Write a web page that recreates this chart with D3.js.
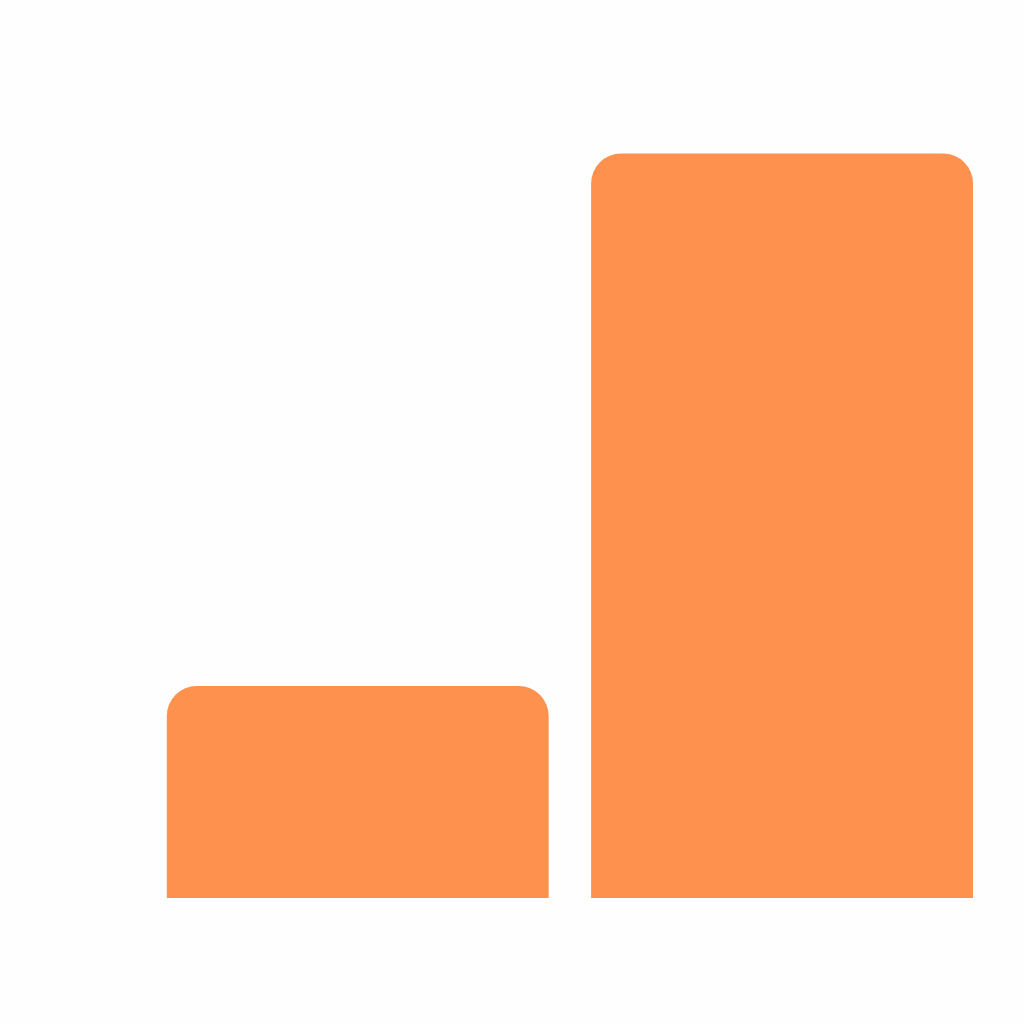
<!DOCTYPE html>
<html>
<head>
<meta charset="utf-8">
<script src="https://cdn.jsdelivr.net/npm/d3@7"></script>
<style>
  html, body { margin: 0; padding: 0; background: #fefefe; }
</style>
</head>
<body>
<script>
const categories = ["A", "B"]
const values = [29.9, 105]

const margin = ({top: 153.5, right: 51, bottom: 126, left: 166.8})
const width = 1024
const height = 1024
const radius = 30

const svg = d3.select("body").append("svg")
  .attr("width", width)
  .attr("height", height)
  .style("display", "block")

const x = d3.scaleBand()
  .domain(categories)
  .range([margin.left, width - margin.right])
  .paddingInner(0.1)

const y = d3.scaleLinear()
  .domain([0, 105])
  .range([height - margin.bottom, margin.top])

// bars with the top corners rounded only
const barPath = (d, i) => {
  const x0 = x(categories[i])
  const x1 = x0 + x.bandwidth()
  const y0 = y(0)
  const y1 = y(d)
  return `M${x0},${y0}V${y1 + radius}A${radius},${radius} 0 0 1 ${x0 + radius},${y1}` +
    `H${x1 - radius}A${radius},${radius} 0 0 1 ${x1},${y1 + radius}V${y0}Z`
}

svg.selectAll("path.bar")
  .data(values)
  .join("path")
  .attr("class", "bar")
  .attr("d", barPath)
  .attr("fill", "#ff914f")
</script>
</body>
</html>
